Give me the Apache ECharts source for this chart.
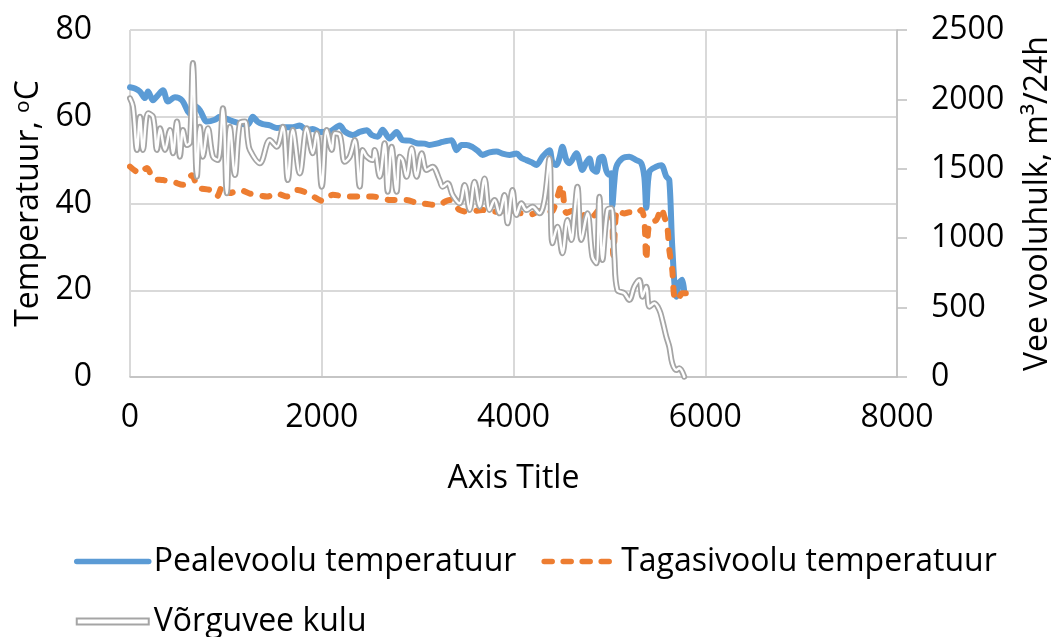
<!DOCTYPE html>
<html>
<head>
<meta charset="utf-8">
<script src="https://cdn.jsdelivr.net/npm/echarts@6/dist/echarts.min.js"></script>
<style>
  html, body { margin: 0; padding: 0; background: #fff; }
  #chart { width: 1056px; height: 637px; }
</style>
</head>
<body>
<div id="chart"></div>
<script>
// Supply (pealevool) temperature, °C
const supplyX = [0, 52, 104, 156, 188, 240, 292, 344, 396, 469, 542, 625, 677, 729, 802, 885, 938, 1042, 1146, 1229, 1281, 1333, 1385, 1458, 1531, 1615, 1698, 1771, 1844, 1906, 1979, 2083, 2188, 2240, 2323, 2396, 2469, 2521, 2583, 2635, 2708, 2781, 2844, 2917, 2990, 3073, 3125, 3198, 3260, 3354, 3406, 3458, 3510, 3573, 3625, 3677, 3750, 3823, 3885, 3958, 4031, 4083, 4135, 4188, 4240, 4302, 4375, 4406, 4448, 4479, 4510, 4552, 4583, 4656, 4719, 4760, 4792, 4823, 4865, 4896, 4927, 4969, 5000, 5021, 5031, 5052, 5073, 5135, 5208, 5281, 5333, 5365, 5385, 5417, 5490, 5542, 5594, 5625, 5656, 5698, 5729, 5760, 5781];
const supplyT = [66.8, 66.5, 65.8, 64.3, 65.8, 63.8, 65, 66.1, 63.5, 64.5, 63.8, 60.8, 62.5, 61.5, 58.9, 59.3, 60, 59.2, 58.5, 58.2, 60, 58.8, 58.3, 58, 57.4, 57.6, 57.6, 58, 56.9, 57.2, 56.5, 56.6, 58, 56.6, 55.8, 56.5, 56.9, 55.8, 55.4, 57, 55, 56.5, 54.6, 54.5, 53.9, 53.8, 53.5, 53.8, 54.2, 54.6, 52.3, 53.5, 53.5, 53, 52.2, 51.2, 51.8, 52, 51.5, 51.2, 51.5, 50.5, 50, 49.5, 48.9, 50.8, 52.3, 49.5, 48.9, 50.5, 53.1, 50, 49.3, 51.6, 47.7, 49.5, 50.4, 48, 47.3, 50.4, 50.8, 47.5, 46.6, 47, 39.5, 45, 48.5, 50.4, 50.8, 50, 49.3, 46, 39, 47.3, 48.5, 48.8, 46.2, 45.4, 30, 18.5, 21.7, 22.4, 19.4];

// Return (tagasivool) temperature, °C
const returnX = [0, 104, 177, 240, 344, 448, 552, 646, 698, 729, 833, 906, 969, 1042, 1146, 1250, 1323, 1427, 1531, 1635, 1750, 1875, 2010, 2115, 2260, 2396, 2531, 2635, 2708, 2844, 2885, 3021, 3052, 3198, 3333, 3438, 3542, 3677, 3823, 3958, 4063, 4167, 4302, 4396, 4448, 4500, 4552, 4615, 4688, 4760, 4823, 4896, 4969, 5021, 5042, 5083, 5156, 5208, 5281, 5333, 5365, 5385, 5417, 5490, 5542, 5573, 5604, 5625, 5656, 5677, 5708, 5760, 5802];
const returnT = [48.5, 47, 48.2, 45.8, 45.4, 45, 44.3, 46.5, 44, 43.5, 43.1, 41.6, 44.3, 42.4, 43.1, 42.3, 42, 41.6, 42.3, 41.6, 43.1, 42.1, 40.6, 42, 41.6, 41.6, 41.6, 41.2, 40.8, 40.8, 40.8, 40, 40, 39.6, 40.8, 38.5, 38.1, 38.5, 38.1, 38.5, 37.8, 37.4, 38.5, 38.1, 40.8, 44.2, 37.8, 38.3, 36.2, 37.7, 37, 38.5, 37.3, 37.5, 28.1, 38.5, 37.7, 38, 37.7, 38.5, 36, 27, 35.4, 36.2, 38.9, 37, 34.6, 29.3, 24.7, 18.5, 17.7, 19.3, 19.3];

// Network water flow, m³/24h
const flowX = [0, 31, 73, 104, 135, 188, 240, 281, 313, 365, 417, 448, 490, 521, 552, 594, 625, 656, 698, 729, 760, 813, 865, 917, 969, 1010, 1042, 1094, 1146, 1198, 1229, 1250, 1354, 1458, 1531, 1594, 1646, 1698, 1771, 1844, 1906, 1948, 2000, 2052, 2104, 2135, 2188, 2240, 2292, 2344, 2396, 2427, 2469, 2531, 2552, 2604, 2656, 2688, 2729, 2781, 2813, 2844, 2885, 2938, 2990, 3042, 3094, 3156, 3229, 3260, 3313, 3365, 3438, 3490, 3542, 3594, 3646, 3698, 3750, 3802, 3854, 3906, 3938, 3990, 4031, 4083, 4135, 4198, 4271, 4323, 4375, 4406, 4458, 4510, 4563, 4604, 4635, 4667, 4708, 4771, 4823, 4865, 4896, 4927, 4979, 5021, 5052, 5083, 5156, 5208, 5260, 5313, 5344, 5385, 5417, 5469, 5521, 5552, 5594, 5625, 5656, 5698, 5729, 5781];
const flowQ = [2008, 1948, 1636, 1875, 1636, 1900, 1875, 1636, 1792, 1636, 1780, 1612, 1840, 1587, 1780, 1671, 1690, 2262, 1443, 1803, 1587, 1792, 1587, 1563, 1936, 1323, 1803, 1455, 1828, 1840, 1707, 1636, 1540, 1707, 1659, 1803, 1419, 1780, 1467, 1792, 1612, 1756, 1371, 1780, 1636, 1756, 1744, 1551, 1587, 1707, 1371, 1636, 1587, 1563, 1636, 1443, 1684, 1335, 1659, 1335, 1587, 1563, 1443, 1648, 1443, 1612, 1491, 1515, 1419, 1371, 1395, 1311, 1251, 1383, 1203, 1407, 1227, 1431, 1203, 1275, 1179, 1311, 1107, 1347, 1167, 1251, 1203, 1227, 1179, 1275, 1576, 963, 1083, 891, 1131, 987, 1167, 1371, 987, 1179, 867, 819, 1299, 843, 1203, 1215, 867, 627, 603, 555, 651, 699, 579, 651, 507, 531, 483, 411, 290, 218, 99, 50, 63, 2];

// Axis ticks
const xTicks = { min: 0, max: 8000, step: 2000 };
const tempTicks = { min: 0, max: 80, step: 20 };
const flowTicks = { min: 0, max: 2500, step: 500 };

const names = {
  supply: 'Pealevoolu temperatuur',
  ret: 'Tagasivoolu temperatuur',
  flow: 'Võrguvee kulu'
};

const zip = (xs, ys) => xs.map((x, i) => [x, ys[i]]);
const plain = v => String(v);

const FONT = '"Open Sans", "Noto Sans", sans-serif';
const GRID_COLOR = '#d9d9d9';
const AXIS_COLOR = '#bfbfbf';
const BLUE = '#5b9bd5';
const ORANGE = '#ed7d31';
const GREY = '#a5a5a5';

const chart = echarts.init(document.getElementById('chart'), null, { renderer: 'canvas' });

chart.setOption({
  animation: false,
  backgroundColor: '#fff',
  textStyle: { fontFamily: FONT, color: '#000' },
  grid: { left: 130, right: 159, top: 30, bottom: 260, containLabel: false, outerBoundsMode: 'none' },
  legend: {
    left: 74,
    top: 544,
    width: 960,
    padding: 0,
    itemGap: 25,
    itemWidth: 72,
    itemHeight: 6,
    textStyle: { fontFamily: FONT, fontSize: 32, color: '#000', lineHeight: 35 },
    itemStyle: { opacity: 0 },
    data: [
      { name: names.supply, lineStyle: { width: 5.5, cap: 'round' } },
      { name: names.ret, lineStyle: { width: 5.5, type: [8, 11], cap: 'round' } },
      {
        name: names.flow,
        icon: 'rect',
        itemStyle: { color: '#fff', borderColor: GREY, borderWidth: 2, opacity: 1 }
      }
    ]
  },
  xAxis: {
    type: 'value',
    min: xTicks.min,
    max: xTicks.max,
    interval: xTicks.step,
    name: 'Axis Title',
    nameLocation: 'middle',
    nameGap: 86,
    nameTextStyle: { fontFamily: FONT, fontSize: 32, color: '#000' },
    axisLine: { show: true, lineStyle: { color: AXIS_COLOR, width: 1.5 } },
    axisTick: { show: false },
    axisLabel: { fontFamily: FONT, fontSize: 32, color: '#000', margin: 25, formatter: plain },
    splitLine: { show: true, lineStyle: { color: GRID_COLOR, width: 2 } }
  },
  yAxis: [
    {
      type: 'value',
      position: 'left',
      min: tempTicks.min,
      max: tempTicks.max,
      interval: tempTicks.step,
      name: 'Temperatuur, ᵒC',
      nameLocation: 'middle',
      nameRotate: 90,
      nameGap: 82,
      nameTextStyle: { fontFamily: FONT, fontSize: 32, color: '#000' },
      axisLine: { show: false },
      axisTick: { show: false },
      axisLabel: { fontFamily: FONT, fontSize: 32, color: '#000', margin: 38, formatter: plain },
      splitLine: { show: true, lineStyle: { color: GRID_COLOR, width: 2 } }
    },
    {
      type: 'value',
      position: 'right',
      min: flowTicks.min,
      max: flowTicks.max,
      interval: flowTicks.step,
      name: 'Vee vooluhulk, m³/24h',
      nameLocation: 'middle',
      nameRotate: 90,
      nameGap: 125,
      nameTextStyle: { fontFamily: FONT, fontSize: 32, color: '#000' },
      axisLine: { show: true, lineStyle: { color: AXIS_COLOR, width: 1.5 } },
      axisTick: { show: true, length: 10, lineStyle: { color: AXIS_COLOR, width: 1.5 } },
      axisLabel: { fontFamily: FONT, fontSize: 32, color: '#000', margin: 34, formatter: plain },
      splitLine: { show: false }
    }
  ],
  series: [
    {
      name: names.supply,
      type: 'line',
      yAxisIndex: 0,
      data: zip(supplyX, supplyT),
      symbol: 'none',
      smooth: 0.3,
      lineStyle: { color: BLUE, width: 6, cap: 'round', join: 'round' },
      itemStyle: { color: BLUE }
    },
    {
      name: names.ret,
      type: 'line',
      yAxisIndex: 0,
      data: zip(returnX, returnT),
      symbol: 'none',
      smooth: 0.3,
      lineStyle: { color: ORANGE, width: 6, type: [7, 12], cap: 'round', join: 'round' },
      itemStyle: { color: ORANGE }
    },
    {
      name: names.flow,
      type: 'line',
      yAxisIndex: 1,
      data: zip(flowX, flowQ),
      symbol: 'none',
      smooth: 0.35,
      lineStyle: { color: GREY, width: 6, cap: 'round', join: 'round' },
      itemStyle: { color: GREY }
    },
    {
      name: names.flow,
      type: 'line',
      yAxisIndex: 1,
      data: zip(flowX, flowQ),
      symbol: 'none',
      smooth: 0.35,
      lineStyle: { color: '#ffffff', width: 2.5, cap: 'round', join: 'round' },
      itemStyle: { color: '#ffffff' }
    }
  ]
});
</script>
</body>
</html>
